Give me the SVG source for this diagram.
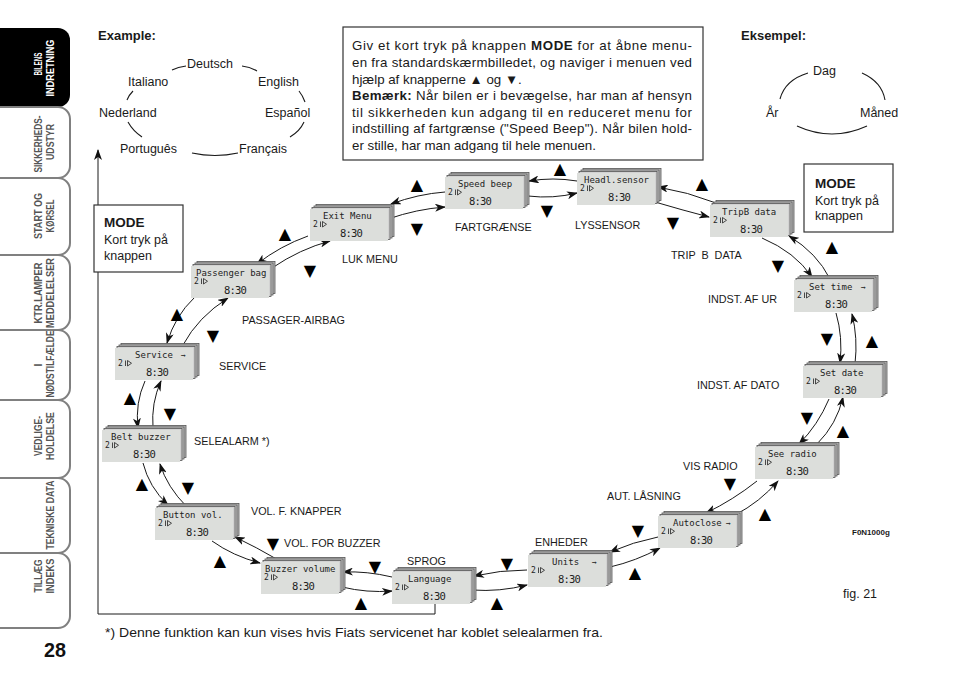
<svg xmlns="http://www.w3.org/2000/svg" width="960" height="677" viewBox="0 0 960 677">
<style>
.t{font-family:"Liberation Sans","DejaVu Sans",sans-serif;fill:#1a1a1a}
.para{font-size:13.3px}
.lbl{font-size:10.8px}
.lang{font-size:12.5px}
.tri{font-family:"DejaVu Sans",sans-serif;font-size:16px;text-anchor:middle;fill:#000}
.lcd{font-family:"DejaVu Sans Mono",monospace;font-size:9px;fill:#222}
.lcds{font-family:"DejaVu Sans Mono",monospace;font-size:8px;fill:#222}
.clk{font-family:"DejaVu Sans Mono",monospace;font-size:10.5px;letter-spacing:-0.8px;fill:#222}
.tab{font-family:"Liberation Sans","DejaVu Sans",sans-serif;font-weight:bold;font-size:10.5px;text-anchor:middle}
.con path{fill:none;stroke:#1a1a1a;stroke-width:1;marker-end:url(#ah)}
.arc{fill:none;stroke:#1a1a1a;stroke-width:1.1}
.box{fill:#fff;stroke:#333;stroke-width:1.2}
.tabw{fill:#fff;stroke:#808080;stroke-width:2}
</style>
<defs>
<marker id="ah" markerUnits="userSpaceOnUse" markerWidth="11" markerHeight="8" refX="10" refY="4" orient="auto"><path d="M0,0 L11,4 L0,8 L3,4 z" fill="#111"/></marker>
<g id="scr">
<rect x="6" y="-4.5" width="78" height="32" fill="#b8b8b8" stroke="#555" stroke-width="0.8"/>
<rect x="4" y="-3" width="78" height="32" fill="#c8c8c8" stroke="#555" stroke-width="0.8"/>
<rect x="2" y="-1.5" width="78" height="32" fill="#d2d2d2" stroke="#555" stroke-width="0.8"/>
<rect x="0" y="0" width="78" height="32" fill="#dcdedb"/>
<path d="M10.5,12.5 v5.5 M12.5,12.5 l4,2.75 -4,2.75 z" stroke="#222" stroke-width="0.8" fill="none"/>
</g>
</defs>

<!-- sidebar -->
<g id="sidebar">
<path d="M-2,28 H58 A12,12 0 0 1 70,40 V95 A12,12 0 0 1 58,107 H-2 Z" fill="#000"/>
<path class="tabw" d="M-2,107 H58 A12,12 0 0 1 70,119 V166 A12,12 0 0 1 58,178 H-2"/>
<path class="tabw" d="M-2,178 H58 A12,12 0 0 1 70,190 V243 A12,12 0 0 1 58,255 H-2"/>
<path class="tabw" d="M-2,255 H58 A12,12 0 0 1 70,267 V318 A12,12 0 0 1 58,330 H-2"/>
<path class="tabw" d="M-2,330 H58 A12,12 0 0 1 70,342 V388 A12,12 0 0 1 58,400 H-2"/>
<path class="tabw" d="M-2,400 H58 A12,12 0 0 1 70,412 V466 A12,12 0 0 1 58,478 H-2"/>
<path class="tabw" d="M-2,478 H58 A12,12 0 0 1 70,490 V541 A12,12 0 0 1 58,553 H-2"/>
<path class="tabw" d="M-2,553 H58 A12,12 0 0 1 70,565 V616 A12,12 0 0 1 58,628 H-2"/>
<g fill="#fff"><text class="tab" transform="translate(42,64) rotate(-90)" textLength="23" lengthAdjust="spacingAndGlyphs">BILENS</text><text class="tab" transform="translate(54,68) rotate(-90)" textLength="57" lengthAdjust="spacingAndGlyphs">INDRETNING</text></g>
<g fill="#555">
<text class="tab" transform="translate(42,144) rotate(-90)" textLength="57" lengthAdjust="spacingAndGlyphs">SIKKERHEDS-</text><text class="tab" transform="translate(54,142) rotate(-90)" textLength="36" lengthAdjust="spacingAndGlyphs">UDSTYR</text>
<text class="tab" transform="translate(42,216) rotate(-90)" textLength="46" lengthAdjust="spacingAndGlyphs">START OG</text><text class="tab" transform="translate(54,216) rotate(-90)" textLength="33" lengthAdjust="spacingAndGlyphs">KØRSEL</text>
<text class="tab" transform="translate(42,293) rotate(-90)" textLength="61" lengthAdjust="spacingAndGlyphs">KTR.LAMPER</text><text class="tab" transform="translate(54,293) rotate(-90)" textLength="70" lengthAdjust="spacingAndGlyphs">MEDDELELSER</text>
<text class="tab" transform="translate(42,365) rotate(-90)">I</text><text class="tab" transform="translate(54,364) rotate(-90)" textLength="67" lengthAdjust="spacingAndGlyphs">NØDSTILFÆLDE</text>
<text class="tab" transform="translate(42,436) rotate(-90)" textLength="40" lengthAdjust="spacingAndGlyphs">VEDLIGE-</text><text class="tab" transform="translate(54,436) rotate(-90)" textLength="48" lengthAdjust="spacingAndGlyphs">HOLDELSE</text>
<text class="tab" transform="translate(54,515) rotate(-90)" textLength="69" lengthAdjust="spacingAndGlyphs">TEKNISKE DATA</text>
<text class="tab" transform="translate(42,576) rotate(-90)" textLength="33" lengthAdjust="spacingAndGlyphs">TILLÆG</text><text class="tab" transform="translate(54,576) rotate(-90)" textLength="35" lengthAdjust="spacingAndGlyphs">INDEKS</text>
</g>
<text x="55" y="657" text-anchor="middle" font-family="Liberation Sans,sans-serif" font-weight="bold" font-size="20" textLength="22" lengthAdjust="spacingAndGlyphs" fill="#111">28</text>
</g>

<!-- example languages -->
<g id="example">
<text class="t" x="98" y="40" font-size="13" font-weight="bold">Example:</text>
<text class="t lang" x="187" y="68">Deutsch</text>
<text class="t lang" x="128" y="86">Italiano</text>
<text class="t lang" x="258" y="86">English</text>
<text class="t lang" x="99" y="117">Nederland</text>
<text class="t lang" x="265" y="117">Español</text>
<text class="t lang" x="120" y="153">Português</text>
<text class="t lang" x="239" y="153">Français</text>
<path class="arc" d="M172,70 Q178,67 186,66 M242,66 Q250,67 257,71 M127,100 Q129,95 133,91 M299,91 Q303,96 305,102 M128,122 Q133,131 142,137 M304,122 Q300,131 290,137 M192,153 Q215,158 238,153"/>
</g>

<g id="eksempel">
<text class="t" x="741" y="40" font-size="13" font-weight="bold">Eksempel:</text>
<text class="t lang" x="813" y="75">Dag</text>
<text class="t lang" x="766" y="117">År</text>
<text class="t lang" x="860" y="117">Måned</text>
<path class="arc" d="M780,99 Q785,80 808,73 M862,73 Q882,82 885,100 M797,126 Q832,142 867,126"/>
</g>

<!-- info box -->
<g id="info">
<rect class="box" x="343" y="27" width="360" height="133"/>
<text class="t para" x="352" y="50" textLength="340" lengthAdjust="spacing">Giv et kort tryk på knappen <tspan font-weight="bold">MODE</tspan> for at åbne menu-</text>
<text class="t para" x="352" y="67" textLength="340" lengthAdjust="spacing">en fra standardskærmbilledet, og naviger i menuen ved</text>
<text class="t para" x="352" y="84">hjælp af knapperne ▲ og ▼.</text>
<text class="t para" x="352" y="100" textLength="340" lengthAdjust="spacing"><tspan font-weight="bold">Bemærk:</tspan> Når bilen er i bevægelse, har man af hensyn</text>
<text class="t para" x="352" y="117" textLength="340" lengthAdjust="spacing">til sikkerheden kun adgang til en reduceret menu for</text>
<text class="t para" x="352" y="133" textLength="340" lengthAdjust="spacing">indstilling af fartgrænse ("Speed Beep"). Når bilen hold-</text>
<text class="t para" x="352" y="150">er stille, har man adgang til hele menuen.</text>
</g>

<!-- frame arrow + connectors -->
<g id="connectors" class="con">
<path d="M435,601 V614 H98 V150"/>
<path d="M445,192 Q418,194 391,204"/>
<path d="M388,219 Q417,209 445,207"/>
<path d="M577,181 Q553,177 529,181"/>
<path d="M528,196 Q553,199 577,193"/>
<path d="M716,203 Q688,192 658,187"/>
<path d="M655,202 Q682,210 709,217"/>
<path d="M830,279 Q817,253 789,236"/>
<path d="M762,238 Q795,252 812,277"/>
<path d="M836,313 Q843,337 840,363"/>
<path d="M855,364 Q858,338 852,314"/>
<path d="M829,399 Q818,425 799,444"/>
<path d="M817,444 Q837,424 843,397"/>
<path d="M757,481 Q733,500 706,513"/>
<path d="M735,515 Q760,502 778,481"/>
<path d="M658,537 Q633,542 610,552"/>
<path d="M610,567 Q636,561 660,548"/>
<path d="M527,570 Q500,570 474,576"/>
<path d="M472,590 Q500,592 527,585"/>
<path d="M392,577 Q367,571 343,572"/>
<path d="M342,587 Q367,593 392,591"/>
<path d="M280,561 Q256,547 235,537"/>
<path d="M212,541 Q233,556 260,563"/>
<path d="M143,463 Q149,487 168,505"/>
<path d="M187,507 Q167,487 160,464"/>
<path d="M145,381 Q135,403 138,428"/>
<path d="M153,428 Q151,403 161,381"/>
<path d="M194,298 Q175,316 167,343"/>
<path d="M183,345 Q198,317 228,298"/>
<path d="M308,236 Q280,246 257,264"/>
<path d="M272,268 Q300,249 330,241"/>
</g>

<!-- MODE boxes -->
<g id="mode-left">
<rect class="box" x="94" y="205" width="89" height="67"/>
<text class="t" x="104" y="227" font-size="13.5" font-weight="bold">MODE</text>
<text class="t" x="104" y="244" font-size="12.5">Kort tryk på</text>
<text class="t" x="104" y="260" font-size="12.5">knappen</text>
</g>
<g id="mode-right">
<rect class="box" x="804" y="164" width="89" height="68"/>
<text class="t" x="815" y="188" font-size="13.5" font-weight="bold">MODE</text>
<text class="t" x="815" y="205" font-size="12.5">Kort tryk på</text>
<text class="t" x="815" y="220" font-size="12.5">knappen</text>
</g>

<!-- screens -->
<g id="n-exit"><g transform="translate(310,209)"><use href="#scr"/><text class="lcd" x="13" y="10">Exit Menu</text><text class="lcds" x="3" y="18">2</text><text class="clk" x="30" y="28">8:30</text></g><text class="t lbl" x="342" y="263">LUK MENU</text></g>
<g id="n-speed"><g transform="translate(445,177)"><use href="#scr"/><text class="lcd" x="13" y="10">Speed beep</text><text class="lcds" x="3" y="18">2</text><text class="clk" x="24" y="28">8:30</text></g><text class="t lbl" x="455" y="231">FARTGRÆNSE</text></g>
<g id="n-headl"><g transform="translate(577,173)"><use href="#scr"/><text class="lcd" x="7" y="10">Headl.sensor</text><text class="lcds" x="3" y="18">2</text><text class="clk" x="31" y="28">8:30</text></g><text class="t lbl" x="575" y="229">LYSSENSOR</text></g>
<g id="n-tripb"><g transform="translate(710,205)"><use href="#scr"/><text class="lcd" x="12" y="10">TripB data</text><text class="lcds" x="3" y="18">2</text><text class="clk" x="30" y="28">8:30</text></g><text class="t lbl" x="671" y="259" xml:space="preserve">TRIP  B  DATA</text></g>
<g id="n-settime"><g transform="translate(794,280)"><use href="#scr"/><text class="lcd" x="15" y="10">Set time</text><text class="lcds" x="67" y="10">→</text><text class="lcds" x="3" y="18">2</text><text class="clk" x="31" y="28">8:30</text></g><text class="t lbl" x="708" y="303">INDST. AF UR</text></g>
<g id="n-setdate"><g transform="translate(803,366)"><use href="#scr"/><text class="lcd" x="17" y="10">Set date</text><text class="lcds" x="3" y="18">2</text><text class="clk" x="31" y="28">8:30</text></g><text class="t lbl" x="697" y="389">INDST. AF DATO</text></g>
<g id="n-seeradio"><g transform="translate(755,447)"><use href="#scr"/><text class="lcd" x="13" y="10">See radio</text><text class="lcds" x="3" y="18">2</text><text class="clk" x="31" y="28">8:30</text></g><text class="t lbl" x="683" y="470">VIS RADIO</text></g>
<g id="n-autoclose"><g transform="translate(658,516)"><use href="#scr"/><text class="lcd" x="15" y="10">Autoclose</text><text class="lcds" x="68" y="10">→</text><text class="lcds" x="3" y="18">2</text><text class="clk" x="32" y="28">8:30</text></g><text class="t lbl" x="607" y="500">AUT. LÅSNING</text></g>
<g id="n-units"><g transform="translate(528,555)"><use href="#scr"/><text class="lcd" x="24" y="10">Units</text><text class="lcds" x="64" y="10">→</text><text class="lcds" x="3" y="18">2</text><text class="clk" x="30" y="28">8:30</text></g><text class="t lbl" x="535" y="546">ENHEDER</text></g>
<g id="n-language"><g transform="translate(392,572)"><use href="#scr"/><text class="lcd" x="16" y="10">Language</text><text class="lcds" x="3" y="18">2</text><text class="clk" x="31" y="28">8:30</text></g><text class="t lbl" x="407" y="565">SPROG</text></g>
<g id="n-buzzer"><g transform="translate(261,562)"><use href="#scr"/><text class="lcd" x="4" y="10">Buzzer volume</text><text class="lcds" x="3" y="18">2</text><text class="clk" x="31" y="28">8:30</text></g><text class="t lbl" x="284" y="547">VOL. FOR BUZZER</text></g>
<g id="n-button"><g transform="translate(155,508)"><use href="#scr"/><text class="lcd" x="8" y="10">Button vol.</text><text class="lcds" x="3" y="18">2</text><text class="clk" x="31" y="28">8:30</text></g><text class="t lbl" x="251" y="515">VOL. F. KNAPPER</text></g>
<g id="n-belt"><g transform="translate(102,430)"><use href="#scr"/><text class="lcd" x="9" y="10">Belt buzzer</text><text class="lcds" x="3" y="18">2</text><text class="clk" x="31" y="28">8:30</text></g><text class="t lbl" x="194" y="445">SELEALARM *)</text></g>
<g id="n-service"><g transform="translate(115,348)"><use href="#scr"/><text class="lcd" x="20" y="10">Service</text><text class="lcds" x="66" y="10">→</text><text class="lcds" x="3" y="18">2</text><text class="clk" x="31" y="28">8:30</text></g><text class="t lbl" x="219" y="370">SERVICE</text></g>
<g id="n-passenger"><g transform="translate(191,266)"><use href="#scr"/><text class="lcd" x="5" y="10">Passenger bag</text><text class="lcds" x="3" y="18">2</text><text class="clk" x="33" y="28">8:30</text></g><text class="t lbl" x="242" y="324">PASSAGER-AIRBAG</text></g>

<!-- key triangles -->
<g id="keys">
<text class="tri" x="285" y="239">▲</text><text class="tri" x="310" y="276">▼</text>
<text class="tri" x="417" y="190">▲</text><text class="tri" x="417" y="234">▼</text>
<text class="tri" x="560" y="174">▲</text><text class="tri" x="547" y="216">▼</text>
<text class="tri" x="702" y="189">▲</text><text class="tri" x="673" y="228">▼</text>
<text class="tri" x="832" y="252">▲</text><text class="tri" x="778" y="271">▼</text>
<text class="tri" x="827" y="344">▼</text><text class="tri" x="872" y="346">▲</text>
<text class="tri" x="807" y="423">▼</text><text class="tri" x="843" y="436">▲</text>
<text class="tri" x="730" y="489">▼</text><text class="tri" x="765" y="519">▲</text>
<text class="tri" x="638" y="536">▼</text><text class="tri" x="635" y="578">▲</text>
<text class="tri" x="507" y="569">▼</text><text class="tri" x="497" y="608">▲</text>
<text class="tri" x="375" y="572">▼</text><text class="tri" x="361" y="608">▲</text>
<text class="tri" x="273" y="549">▼</text><text class="tri" x="220" y="566">▲</text>
<text class="tri" x="142" y="489">▲</text><text class="tri" x="188" y="493">▼</text>
<text class="tri" x="130" y="403">▲</text><text class="tri" x="170" y="419">▼</text>
<text class="tri" x="177" y="319">▲</text><text class="tri" x="213" y="341">▼</text>
</g>

<text class="t" x="852" y="535" font-size="8" font-weight="bold">F0N1000g</text>
<text class="t" x="843" y="598" font-size="12.5">fig. 21</text>
<text class="t" x="105" y="637" font-size="13" textLength="498" lengthAdjust="spacingAndGlyphs">*) Denne funktion kan kun vises hvis Fiats servicenet har koblet selealarmen fra.</text>
</svg>
